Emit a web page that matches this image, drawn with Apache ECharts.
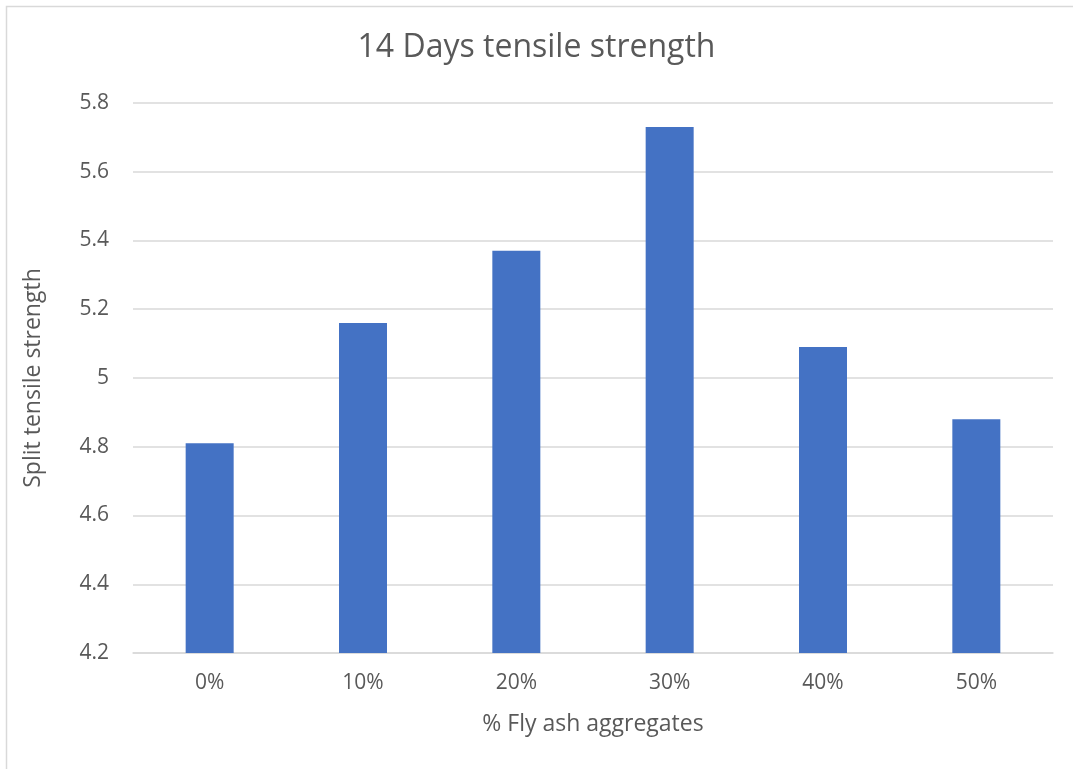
<!DOCTYPE html>
<html><head><meta charset="utf-8">
<script src="https://cdn.jsdelivr.net/npm/echarts@6/dist/echarts.min.js"></script>
<style>html,body{margin:0;padding:0;background:#fff;}#c{width:1073px;height:769px;}</style>
</head><body><div id="c"></div>
<script>
const categories = ['0%', '10%', '20%', '30%', '40%', '50%'];
const values = [4.81, 5.16, 5.37, 5.73, 5.09, 4.88];
const yTicks = { min: 4.2, max: 5.8, interval: 0.2 };
const titleText = '14 Days tensile strength';
const xName = '% Fly ash aggregates';
const yName = 'Split tensile strength';

const chart = echarts.init(document.getElementById('c'));
const font = 'Open Sans, Noto Sans, sans-serif';
chart.setOption({
  animation: false,
  graphic: [{ type: 'rect', shape: { x: 6.5, y: 6.5, width: 1100, height: 800 }, style: { fill: 'none', stroke: '#d9d9d9', lineWidth: 1.5 }, silent: true }],
  title: { text: titleText, left: 'center', top: 27, textStyle: { fontFamily: font, fontSize: 32, fontWeight: 'normal', color: '#595959' } },
  grid: { left: 133, right: 20, top: 103, bottom: 116 },
  xAxis: {
    type: 'category', data: categories,
    name: xName, nameLocation: 'middle', nameGap: 60,
    nameTextStyle: { fontFamily: font, fontSize: 23, color: '#595959' },
    axisLine: { lineStyle: { color: '#d9d9d9', width: 1.5 } },
    axisTick: { show: false },
    axisLabel: { fontFamily: font, fontSize: 21, color: '#595959', margin: 20 }
  },
  yAxis: {
    type: 'value', min: yTicks.min, max: yTicks.max, interval: yTicks.interval,
    name: yName, nameLocation: 'middle', nameGap: 88, nameRotate: 90,
    nameTextStyle: { fontFamily: font, fontSize: 23, color: '#595959' },
    axisLine: { show: false }, axisTick: { show: false },
    axisLabel: { fontFamily: font, fontSize: 21, color: '#595959', margin: 24, formatter: v => String(+v.toFixed(1)) },
    splitLine: { lineStyle: { color: '#d9d9d9', width: 1.5 } }
  },
  series: [{ type: 'bar', data: values, barWidth: 48, itemStyle: { color: '#4472c4' } }]
});
</script></body></html>
